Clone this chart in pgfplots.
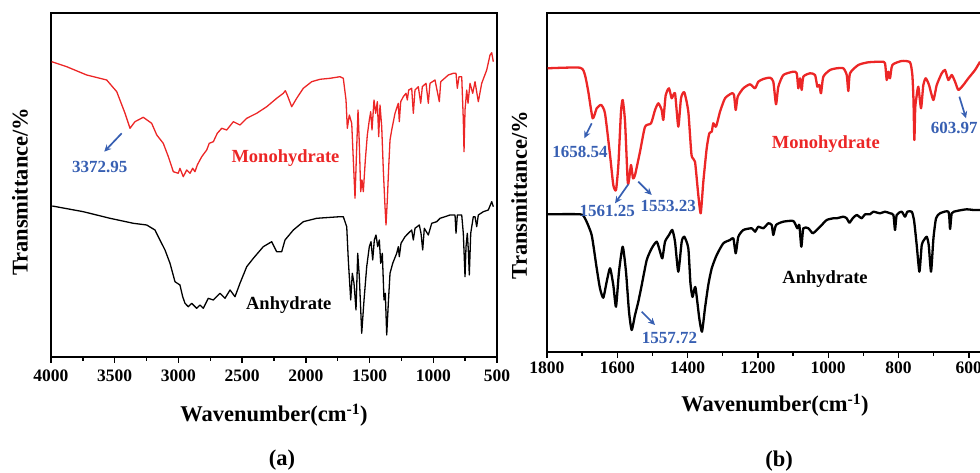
\documentclass[border=0pt]{standalone}
\usepackage{fontspec}
\setmainfont{Liberation Serif}
\usepackage{pgfplots}
\pgfplotsset{compat=1.18}
\usetikzlibrary{arrows.meta}
\definecolor{specred}{RGB}{236,38,38}
\definecolor{annblue}{RGB}{55,95,178}
\newcommand\tickfont{\fontsize{17.5}{20}\selectfont\bfseries}
\newcommand\annfont{\fontsize{17}{20}\selectfont\bfseries}
\newcommand\namefont{\fontsize{18.5}{22}\selectfont\bfseries}
\newcommand\axfont{\fontsize{22.5}{26}\selectfont\bfseries}
\tikzset{arr/.style={annblue, line width=1.7pt, -{Stealth[length=7pt,width=6.5pt]}}}
\pgfplotsset{
  ftir/.style={
    scale only axis, x dir=reverse, ytick=\empty,
    tick align=outside, xtick pos=left,
    major tick length=6pt, minor tick length=4pt,
    minor x tick num=1,
    axis line style={line width=1.6pt},
    every tick/.style={line width=1.4pt, black},
    ticklabel style={font=\tickfont},
    /pgf/number format/assume math mode=true,
    /pgf/number format/1000 sep={},
    xlabel={Wavenumber(cm\textsuperscript{-1})},
    ylabel={Transmittance/\%},
    label style={font=\axfont, anchor=center},
    clip=false,
  },
}
\begin{document}
\begin{tikzpicture}
% ---------------- panel (a) ----------------
\begin{axis}[ftir,
  at={(51pt,116pt)}, anchor=south west,
  width=446pt, height=344pt,
  xmin=500, xmax=4000, ymin=116, ymax=460,
  xtick={500,1000,...,4000},
  xticklabel style={yshift=-3pt},
  xlabel style={at={(axis description cs:0.5,-0.1686)}},
  ylabel style={at={(axis description cs:-0.0695,0.4805)}},
]
\addplot[specred, line width=1.3pt, line join=round] coordinates {
(3995,411.3) (3877,406.3) (3720,398) (3563,393) (3484,381.3) (3419,359.7) (3380,344.7) (3341,351.3) (3276,355.7) (3210,349.7) (3170,338) (3119,329.7) (3079,316.3) (3040,301.3) (3001,299.7) (2988,304.7) (2962,296.3) (2935,303) (2909,299.7) (2888,304.7) (2870,301.3) (2852,308) (2817,316.3) (2778,323) (2758,329.7) (2726,331.3) (2695,339.7) (2660,344.7) (2621,343) (2569,351.3) (2517,348) (2464,354.7) (2386,359.7) (2307,366.3) (2229,374.7) (2177,379.7) (2161,382.3) (2146,378) (2111,366.3) (2072,374.7) (2020,384.7) (1954,391.3) (1889,393.7) (1810,394.7) (1732,396.3) (1706,394.7) (1684.8,373) (1674.6,344.7) (1658.9,358) (1640,349.7) (1627.5,313) (1614.2,274.7) (1600.8,326.3) (1590.6,363) (1580.5,329.7) (1569.5,281.3) (1559.2,293) (1549,281.3) (1533.3,313) (1517.6,338) (1501.9,353) (1491,361.3) (1480.8,343) (1465.1,373) (1451.8,359.7) (1439.2,371.3) (1428.2,336.3) (1418,368) (1404.7,346.3) (1392.1,303) (1378.8,266.3) (1370.9,248) (1360.7,273) (1349.7,306.3) (1339.5,333) (1326.2,343) (1300.3,359.7) (1274.4,369.7) (1266.6,351.3) (1255.6,371.3) (1235.2,376.3) (1214,379.7) (1203.8,373) (1192.8,383) (1169.3,384.7) (1156.6,359.7) (1143.4,383) (1117.5,386.3) (1098.6,369.7) (1086,386.3) (1057,389.7) (1039,369.7) (1025.6,389.7) (986.4,393) (952.6,371.3) (941.6,391.3) (881.9,398) (842.7,399.7) (821.6,399.7) (811.4,384.7) (798,396.3) (776.8,396.3) (764.3,353) (758.8,321.3) (750.9,363) (737.6,383) (727.4,369.7) (711.7,389.7) (690.5,379.7) (672.5,391.3) (646.6,371.3) (619.9,389.7) (580.6,403) (554.7,418) (541.4,420.3) (528.8,411.3)
};
\addplot[black, line width=1.3pt, line join=round] coordinates {
(3990,267) (3746.5,261.3) (3537,254.7) (3354,249.7) (3249,248) (3184,243) (3145,233) (3105.3,223) (3066,209.7) (3027,191.3) (2988,188) (2966.5,176.3) (2948.4,169.7) (2922.5,166.3) (2896,169.7) (2856.5,164.7) (2830.6,168) (2804.7,164.7) (2765.5,174.7) (2726,173) (2674,179.7) (2634.5,174.7) (2595,183) (2556,176.3) (2517,189.7) (2464,206.3) (2412,214.7) (2334,226.3) (2268,231.3) (2229,221.3) (2189.5,221.3) (2163.6,233) (2098,243) (2020,251.3) (1914.7,254.7) (1732,256.3) (1706,256.3) (1679.3,246.3) (1666.8,213) (1648,173) (1635.4,199.7) (1622.1,189.7) (1606.4,163) (1593,219.7) (1580.4,196.3) (1561.6,139.7) (1543.5,173) (1522.4,206.3) (1502,226.3) (1488.6,231.3) (1475.3,213) (1462.7,233) (1449.4,238) (1436,226.3) (1423.5,233) (1412.5,209.7) (1400,219.7) (1386.6,173) (1376.4,179.7) (1365.4,138) (1352.9,169.7) (1339.5,199.7) (1318.3,209.7) (1287,219.7) (1274.4,226.3) (1266.6,216.3) (1253.2,229.7) (1221.8,236.3) (1195.9,239.7) (1169.3,243) (1156.6,233) (1143.3,244.7) (1109.6,248) (1096.3,239.7) (1083,223) (1070.4,244.7) (1039,238) (1012.3,249.7) (973,251.3) (947,254.7) (907.8,256.3) (868.6,258) (829.4,258) (821.6,239.7) (811.4,258) (776.8,258) (764.3,239.7) (750.9,196.3) (743.1,226.3) (732.9,239.7) (725,223) (717.2,198) (706.2,239.7) (685.8,256.3) (672.5,256.3) (659.2,246.3) (646.6,258) (607.4,261.3) (568.2,263) (541.4,271.3) (528.8,266.3)
};
\node[font=\annfont, text=annblue] at (axis cs:3618,306.3) {3372.95};
\draw[arr] (axis cs:3445,339.7) -- (axis cs:3582,321.3);
\node[font=\namefont, text=specred] at (axis cs:2160,314.7) {Monohydrate};
\node[font=\namefont] at (axis cs:2134,168) {Anhydrate};
\end{axis}
% ---------------- panel (b) ----------------
\begin{axis}[ftir,
  at={(547pt,121pt)}, anchor=south west,
  width=435.9pt, height=339pt,
  xmin=560, xmax=1800, ymin=121, ymax=460,
  xtick={600,800,...,1800},
  xlabel style={at={(axis description cs:0.523,-0.1563)}},
  ylabel style={at={(axis description cs:-0.0635,0.463)}},
]
\addplot[specred, line width=2.3pt, line join=round, smooth, tension=0.35] coordinates {
(1798,404.7) (1706,405.3) (1692,398) (1682.5,381.3) (1670,354.7) (1658.6,364.7) (1646,368) (1635,359.7) (1620.7,318) (1611.4,288) (1603.7,283) (1597,308) (1589.5,361.3) (1584.6,373) (1578,351.3) (1570.4,291.3) (1566.7,293) (1561,308) (1555.3,294.7) (1549.6,298) (1535.4,321.3) (1521.1,346.3) (1504,349.7) (1492.7,363) (1483.3,369.7) (1473.7,363) (1469.1,353) (1462.3,378) (1452.9,384.7) (1445.2,374.7) (1435.8,379.7) (1426.5,346.3) (1418.8,374.7) (1409.4,380.7) (1398,361.3) (1388.9,318) (1379,311.3) (1369.6,278) (1362.7,259.7) (1355.3,291.3) (1345.7,324.7) (1338.3,339.7) (1331.4,341.3) (1326.9,349.7) (1319.2,346.3) (1307.8,361.3) (1293.6,374.7) (1274.5,379.7) (1268,378) (1263.1,363) (1257.5,376.3) (1241.5,384.7) (1222.5,388.7) (1208.2,384.7) (1198.9,391.3) (1184.6,394) (1165.6,395.3) (1156.2,391.3) (1148.5,368.7) (1141.9,386.3) (1127.7,398) (1099.3,401.3) (1089.6,399.7) (1085,384.7) (1080.2,394.7) (1075.4,383) (1070.8,396.3) (1051.8,399.7) (1037.5,398) (1031,386.3) (1025.3,388) (1020.5,379.7) (1013.9,396.3) (994.9,403) (975.8,404.7) (957,404.7) (947.4,398) (942.8,382) (938,399.7) (914.4,408) (885.9,410.7) (847.8,411.3) (838.4,409.7) (833.6,393) (829,401.3) (824.2,394.7) (817.6,408) (790.9,412) (767.3,410.7) (760.7,398) (757.5,373) (755,333) (752.5,365) (749.4,374.7) (743.7,386.3) (736,364.7) (729.5,388) (722.6,394.7) (713.2,388) (701,373) (691.3,388) (677.1,399.7) (667.7,403) (658.3,393) (648.6,398) (639.2,391.3) (629.8,383) (615.6,388) (601.4,394.7) (582.3,403) (568.1,411.3)
};
\addplot[black, line width=2.3pt, line join=round, smooth, tension=0.35] coordinates {
(1798,258.7) (1706,258.7) (1692,254.7) (1673,238) (1658.6,204.7) (1649.3,184.7) (1639.9,175.3) (1630.2,191.3) (1620.7,204.7) (1611.4,188) (1603.7,166.3) (1595.2,201.3) (1584.6,226.3) (1575.3,201.3) (1566.7,161.3) (1559.1,143) (1549.6,158) (1540.2,171.3) (1530.5,188) (1516.3,213) (1502.1,224.7) (1487.8,231.3) (1478.4,221.3) (1471.9,214.7) (1464.2,231.3) (1452.9,238) (1443.5,243) (1435.8,231.3) (1426.5,201.3) (1416.8,231.3) (1409.4,236.3) (1398,224.7) (1392,190) (1386,176) (1378,186) (1366.8,154.7) (1359.1,141.3) (1350.6,164.7) (1341.2,188) (1331.4,204.7) (1317.2,218) (1298.4,229.7) (1279.3,233) (1269.9,234.7) (1263.1,219.7) (1255.7,236.3) (1241.5,243) (1217.6,244.7) (1208.2,241.3) (1198.9,246.3) (1184.6,244.7) (1170.4,249.7) (1160.7,248) (1156.2,238) (1148.5,248) (1127.7,251.3) (1099.3,252) (1087.9,244.7) (1082.2,248) (1076.5,226.3) (1070.8,244.7) (1056.6,244.7) (1044.1,239.7) (1032.7,243) (1018.5,248) (1004.3,253) (985.5,254.7) (975.8,254.7) (956.8,256.3) (947.4,254.7) (939.7,250.3) (930.4,254.7) (919,258) (904.8,254.7) (895.4,258.7) (881.2,258.7) (871.5,261.3) (852.8,259.7) (838.4,261.3) (824.2,259.7) (814.6,258) (810,243) (805.2,258) (791,261.3) (781.6,256.3) (774.8,261.3) (762.5,261.3) (756,253) (748.3,228) (740.6,201.3) (734,228) (727.5,233) (719.8,236.3) (714.1,228) (707.5,201.3) (700.7,234.7) (693.3,254.7) (681.9,259.7) (658,261.3) (653.4,244) (648.6,259.7) (634.4,262) (606,263.7) (586.9,263) (563.3,263)
};
\node[font=\annfont, text=annblue] at (axis cs:1706,321.3) {1658.54};
\draw[arr] (axis cs:1672.8,349.7) -- (axis cs:1693.9,334.7);
\node[font=\annfont, text=annblue] at (axis cs:1628.7,262.3) {1561.25};
\draw[arr] (axis cs:1568.7,288.7) -- (axis cs:1606.5,269.7);
\node[font=\annfont, text=annblue] at (axis cs:1454.9,267.3) {1553.23};
\draw[arr] (axis cs:1540.3,291.3) -- (axis cs:1502.1,278);
\node[font=\annfont, text=annblue] at (axis cs:1451.5,134.7) {1557.72};
\draw[arr] (axis cs:1530.6,161.3) -- (axis cs:1492.7,148);
\node[font=\annfont, text=annblue] at (axis cs:641.5,344.7) {603.97};
\draw[arr] (axis cs:627,376.3) -- (axis cs:608,354.7);
\node[font=\namefont, text=specred] at (axis cs:1006.8,329) {Monohydrate};
\node[font=\namefont] at (axis cs:1009,193.7) {Anhydrate};
\end{axis}
\node[font=\axfont] at (282pt,13pt) {(a)};
\node[font=\axfont] at (779pt,11.5pt) {(b)};
\pgfresetboundingbox
\useasboundingbox (0pt,0pt) rectangle (980pt,473pt);
\end{tikzpicture}
\end{document}
